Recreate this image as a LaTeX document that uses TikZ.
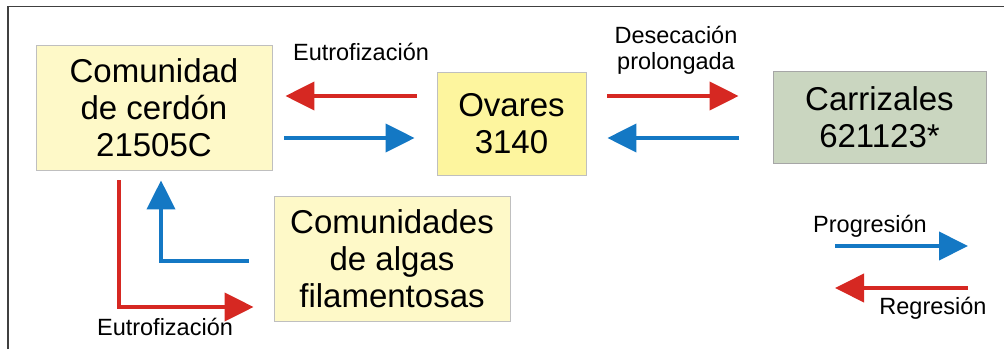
\documentclass[tikz,border=0pt]{standalone}
\usepackage{fontspec}
\setmainfont{Liberation Sans}
\usetikzlibrary{arrows.meta}

\definecolor{regred}{RGB}{214,40,34}
\definecolor{progblue}{RGB}{20,120,196}
\definecolor{paleyellow}{RGB}{254,249,200}
\definecolor{ovyellow}{RGB}{253,245,158}
\definecolor{reedgreen}{RGB}{202,214,192}

\tikzset{
  habitat/.style={draw=black!25, line width=0.8pt, align=center, font=\fontsize{33}{37}\selectfont, inner sep=0pt},
  regr/.style={draw=regred, line width=4pt, -{Triangle[length=29pt,width=28pt]}},
  progr/.style={draw=progblue, line width=4pt, -{Triangle[length=29pt,width=28pt]}},
  lbl/.style={font=\fontsize{23.5}{26}\selectfont, align=center, inner sep=0pt}
}

\begin{document}
\begin{tikzpicture}[x=1pt,y=-1pt]
\useasboundingbox (0,0) rectangle (1004,349);
\draw[black!75, line width=1.5pt] (8,349) -- (8,6.5) -- (1004,6.5);

\node[habitat, fill=paleyellow, minimum width=236pt, minimum height=125pt] (com) at (154,107.5) {Comunidad\\de cerdón\\21505C};
\node[habitat, fill=ovyellow, minimum width=149pt, minimum height=103pt] (ov) at (511.5,123.5) {Ovares\\3140};
\node[habitat, fill=reedgreen, draw=black!35, minimum width=213pt, minimum height=92pt] (car) at (879.5,117) {Carrizales\\621123*};
\node[habitat, fill=paleyellow, minimum width=236pt, minimum height=125pt] (alg) at (392,258.5) {Comunidades\\de algas\\filamentosas};

% labels
\node[lbl] (eutA) at (361,52) {Eutrofización};
\node[lbl] (desec) at (676,50) {Desecación\\prolongada};
\node[lbl] (eutB) at (165,327) {Eutrofización};
\node[lbl] (progl) at (870,226) {Progresión};
\node[lbl] (regl) at (933,308) {Regresión};

% arrows between habitats
\draw[regr, shorten <=20pt, shorten >=13pt] ([yshift=27.5pt]ov.west) -- ([yshift=11.5pt]com.east);
\draw[progr, shorten <=12pt, shorten >=22pt] ([yshift=-30.5pt]com.east) -- ([yshift=-14.5pt]ov.west);
\draw[regr, shorten <=21pt, shorten >=34pt] ([yshift=27.5pt]ov.east) -- ([yshift=21pt]car.west);
\draw[progr, shorten <=34pt, shorten >=21pt] ([yshift=-21pt]car.west) -- ([yshift=-14.5pt]ov.east);
\draw[regr] ([shift={(-35,10)}]com.south) |- ([shift={(-20,48.5)}]alg.west);
\draw[progr] ([shift={(-25,2.5)}]alg.west) -| ([shift={(7,10)}]com.south);

% legend
\coordinate (p1) at (835,246);
\coordinate (p2) at (968,246);
\coordinate (r1) at (968,288);
\coordinate (r2) at (835,288);
\draw[progr] (p1) -- (p2);
\draw[regr] (r1) -- (r2);
\end{tikzpicture}
\end{document}
